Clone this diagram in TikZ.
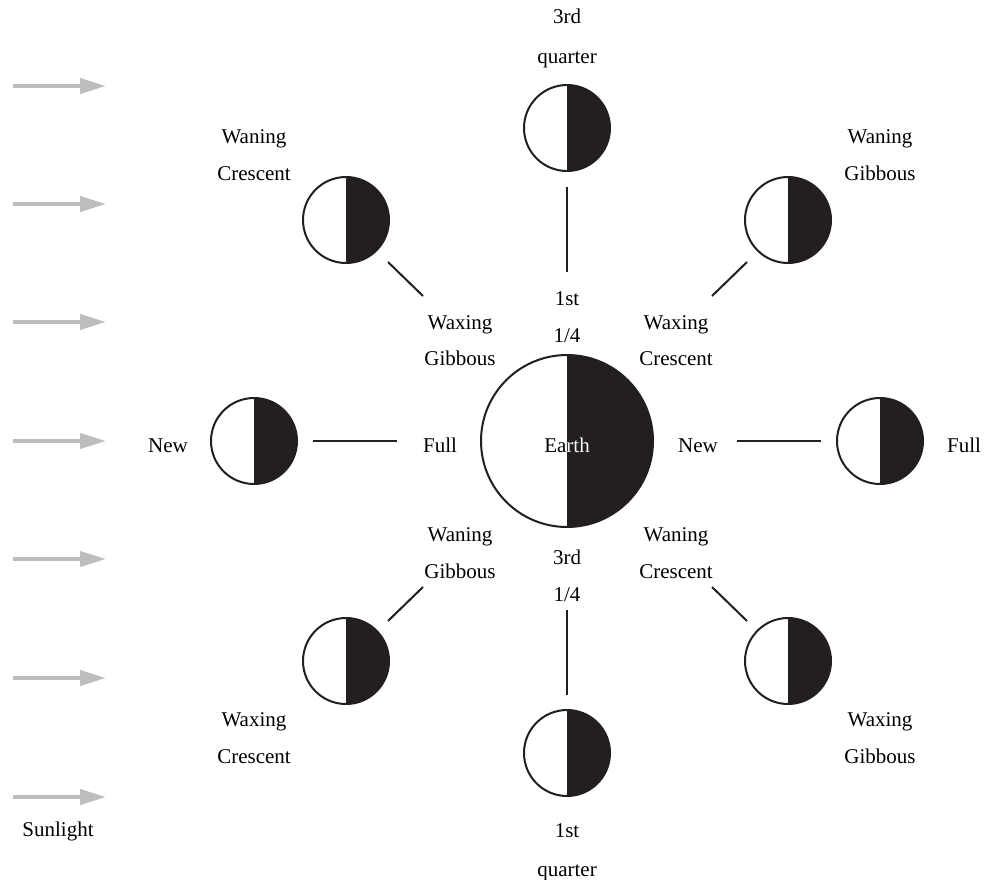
\documentclass[tikz,border=0pt]{standalone}
\usepackage{fontspec}
\setmainfont{LiberationSerif}[Extension=.ttf, UprightFont=*-Regular]
\usetikzlibrary{arrows.meta}
\definecolor{moondark}{HTML}{231F20}
\definecolor{sungrey}{HTML}{BDBDBD}
\begin{document}
\begin{tikzpicture}[x=1pt,y=-1pt,
  txt/.style={font=\fontsize{21}{24}\selectfont, inner sep=0pt, anchor=base},
  moon/.style={circle, draw=moondark, line width=2pt, minimum size=86pt, inner sep=0pt,
    path picture={\fill[moondark] (path picture bounding box.north) rectangle (path picture bounding box.south east);}},
  earth/.style={moon, minimum size=172pt},
  spoke/.style={line width=2pt, draw=moondark},
  sun/.style={draw=sungrey, line width=4pt, -{Triangle[length=26pt,width=15pt]}}]
\useasboundingbox (0,0) rectangle (986,879);
% sunlight arrows
\foreach \i/\yy in {1/86,2/204,3/322,4/441,5/559,6/678,7/797}{
  \coordinate (s\i a) at (13,\yy);
  \coordinate (s\i b) at (106,\yy);
  \draw[sun] (s\i a) -- (s\i b);
}
\node[txt] (sunlbl) at (58,836) {Sunlight};
% earth
\node[earth] (earth) at (567,441) {};
\node[txt] (earthlbl) at (567,452) {Earth};
\begin{scope}
\clip (567,300) rectangle (700,600);
\node[txt, text=white] at (567,452) {Earth};
\end{scope}
% moons
\node[moon] (mT) at (567,128) {};
\node[moon] (mUL) at (346,220) {};
\node[moon] (mUR) at (788,220) {};
\node[moon] (mL) at (254,441) {};
\node[moon] (mR) at (880,441) {};
\node[moon] (mLL) at (346,661) {};
\node[moon] (mLR) at (788,661) {};
\node[moon] (mB) at (567,753) {};
% spokes
\coordinate (tA) at (567,187); \coordinate (tB) at (567,272);
\coordinate (bA) at (567,610); \coordinate (bB) at (567,695);
\coordinate (lA) at (313,441); \coordinate (lB) at (397,441);
\coordinate (rA) at (737,441); \coordinate (rB) at (821,441);
\coordinate (ulA) at (388,262); \coordinate (ulB) at (423,296);
\coordinate (urA) at (747,262); \coordinate (urB) at (712,296);
\coordinate (llA) at (423,587); \coordinate (llB) at (388,621);
\coordinate (lrA) at (712,587); \coordinate (lrB) at (747,621);
\foreach \s in {t,b,l,r,ul,ur,ll,lr}{\draw[spoke] (\s A) -- (\s B);}
% labels
\node[txt] at (567,23) {3rd};
\node[txt] at (567,63) {quarter};
\node[txt] at (254,143) {Waning};
\node[txt] at (254,180) {Crescent};
\node[txt] at (880,143) {Waning};
\node[txt] at (880,180) {Gibbous};
\node[txt] at (567,305) {1st};
\node[txt] at (567,342) {1/4};
\node[txt] at (460,329) {Waxing};
\node[txt] at (460,365) {Gibbous};
\node[txt] at (676,329) {Waxing};
\node[txt] at (676,365) {Crescent};
\node[txt] at (168,452) {New};
\node[txt] at (440,452) {Full};
\node[txt] at (698,452) {New};
\node[txt] at (964,452) {Full};
\node[txt] at (460,541) {Waning};
\node[txt] at (460,578) {Gibbous};
\node[txt] at (567,564) {3rd};
\node[txt] at (567,601) {1/4};
\node[txt] at (676,541) {Waning};
\node[txt] at (676,578) {Crescent};
\node[txt] at (254,726) {Waxing};
\node[txt] at (254,763) {Crescent};
\node[txt] at (880,726) {Waxing};
\node[txt] at (880,763) {Gibbous};
\node[txt] at (567,837) {1st};
\node[txt] at (567,876) {quarter};
\end{tikzpicture}
\end{document}
